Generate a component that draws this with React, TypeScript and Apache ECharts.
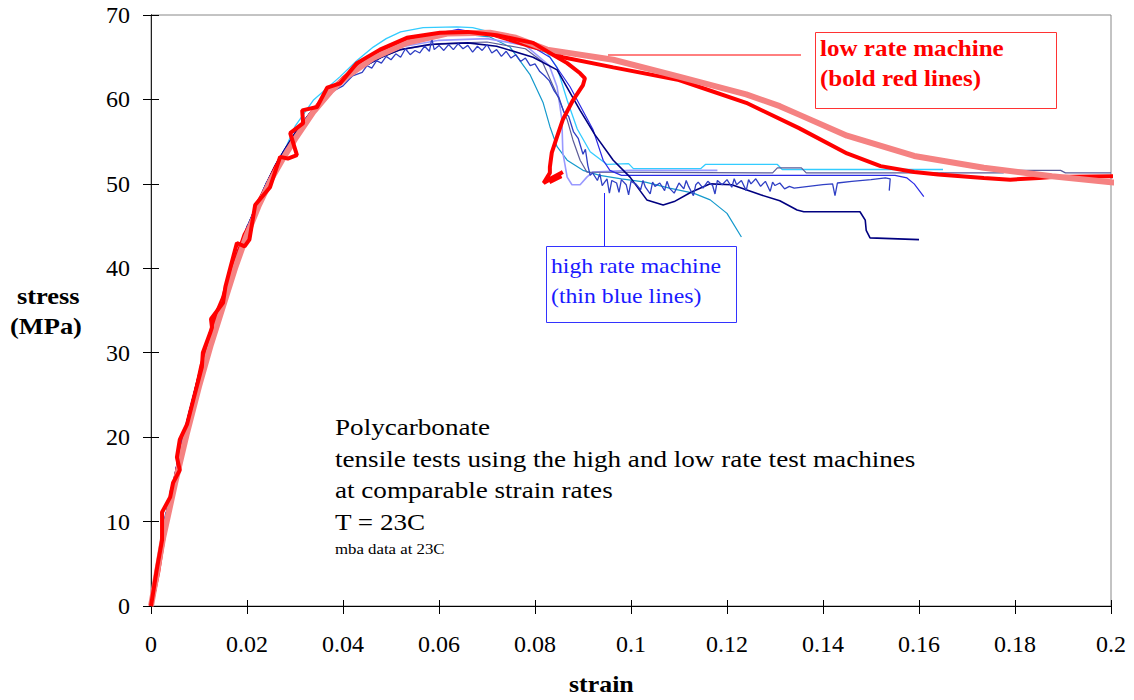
import React, { useEffect, useRef } from "react";
import * as echarts from "echarts";

// ---------- axis ticks ----------
const strainMin = 0;
const strainMax = 0.2;
const strainStep = 0.02;
const stressMin = 0;
const stressMax = 70;
const stressStep = 10;

// ---------- high rate machine (thin blue lines) ----------
const blueRiseLow: number[][] = [
  [0, 0], [0.001, 3.5], [0.002, 7], [0.003, 10.5], [0.004, 13], [0.005, 15.5], [0.006, 18.5],
  [0.008, 23], [0.01, 27.5], [0.012, 31.5], [0.014, 35], [0.016, 38.5], [0.018, 41.8],
  [0.02, 44.8], [0.022, 47.5], [0.024, 50], [0.026, 52.3], [0.028, 54.2],
];
const blueRiseHigh: number[][] = [
  [0.03, 56], [0.033, 58.3], [0.036, 60.2], [0.04, 62.2], [0.044, 63.8], [0.048, 65.0],
];
const cyanTail: number[][] = [
  [0.03, 56.8], [0.0338, 59.9], [0.0394, 62.7], [0.0429, 64.6], [0.0463, 66.2], [0.049, 67.2],
  [0.052, 68.0], [0.0567, 68.5], [0.0637, 68.6], [0.067, 68.5], [0.0706, 68.0], [0.0727, 67.6],
  [0.0754, 67.4], [0.079, 66.2], [0.0825, 65.5], [0.0846, 63.8], [0.0867, 59.9], [0.0888, 56.5],
  [0.0915, 53.8], [0.095, 52.3], [0.0995, 52.4], [0.1005, 51.8], [0.1145, 51.8], [0.1155, 52.3],
  [0.1305, 52.3], [0.1315, 51.7], [0.165, 51.7],
];
const navyTail: number[][] = [
  [0.052, 65.9], [0.058, 66.5], [0.066, 66.7], [0.072, 66.3], [0.0796, 65.0], [0.0846, 63.5],
  [0.0894, 58.7], [0.0925, 55.8], [0.0963, 52.8], [0.0998, 50.8], [0.1033, 48.1], [0.1067, 47.5],
  [0.109, 47.9], [0.1125, 49.0], [0.1165, 50.0], [0.121, 49.9], [0.124, 49.3], [0.127, 48.7],
  [0.131, 48.0], [0.1346, 46.9], [0.136, 46.7], [0.1477, 46.7], [0.1488, 45.7], [0.149, 44.5],
  [0.1498, 43.6], [0.16, 43.4],
];
const tealTail: number[][] = [
  [0.052, 66.8], [0.058, 67.5], [0.064, 67.8], [0.0706, 67.4], [0.0748, 66.2], [0.079, 62.9],
  [0.0817, 59.6], [0.0831, 56.8], [0.0846, 54.4], [0.0867, 52.8], [0.09, 51.6], [0.0935, 51.0],
  [0.098, 50.6], [0.103, 50.2], [0.108, 49.5], [0.113, 48.9], [0.1165, 48.1], [0.12, 46.5],
  [0.123, 43.7],
];
const blueTail: number[][] = [
  [0.052, 66.6], [0.058, 67.6], [0.064, 68.3], [0.068, 67.9], [0.074, 67.3], [0.079, 66.4],
  [0.0831, 65.0], [0.0873, 61.5], [0.0921, 56.4], [0.0942, 52.8], [0.0956, 51.6], [0.098, 51.0],
  [0.155, 51.0], [0.1575, 50.7], [0.159, 50.0], [0.161, 48.5],
];
const lavenderTail: number[][] = [
  [0.052, 66.2], [0.06, 67.0], [0.07, 67.2], [0.078, 66.4], [0.083, 64.0], [0.0846, 61.5],
  [0.0856, 57.6], [0.0858, 53.7], [0.0867, 50.8], [0.0877, 49.9], [0.0894, 49.9], [0.0908, 50.8],
  [0.092, 51.4], [0.1, 51.6], [0.118, 51.6],
];
const slateTail: number[][] = [
  [0.052, 65.9], [0.06, 66.6], [0.07, 66.8], [0.078, 66.0], [0.0815, 64.5], [0.0848, 60.3],
  [0.0867, 57.6], [0.0879, 55.2], [0.0894, 52.8], [0.0908, 51.4], [0.1295, 51.3], [0.1305, 51.9],
  [0.1355, 51.9], [0.1365, 51.3], [0.1775, 51.3], [0.1785, 51.6], [0.1895, 51.6], [0.1905, 51.3],
  [0.2, 51.3],
];
const noisyBlue: number[][] = [
  [0, 0.5], [0.0005, 2.5], [0.001, 1.8], [0.0015, 4.5], [0.002, 6.8], [0.0025, 8.2], [0.003, 10.8],
  [0.0035, 11.5], [0.004, 13.6], [0.005, 15.2], [0.006, 18.9], [0.007, 20.4], [0.008, 23.1],
  [0.009, 24.8], [0.01, 27.3], [0.011, 28.6], [0.012, 31.2], [0.013, 32.5], [0.014, 35.1],
  [0.015, 36.3], [0.016, 38.6], [0.017, 39.8], [0.018, 42.1], [0.019, 43.2], [0.02, 45.0],
  [0.021, 45.9], [0.022, 47.6], [0.023, 48.4], [0.024, 50.1], [0.025, 50.9], [0.026, 52.2],
  [0.027, 52.9], [0.028, 54.1], [0.029, 54.6], [0.03, 55.8], [0.032, 57.0], [0.034, 58.6],
  [0.036, 59.7], [0.038, 61.0], [0.04, 61.6], [0.042, 62.8], [0.044, 63.2],
  [0.045, 64.0], [0.046, 63.7], [0.047, 64.6], [0.048, 64.3], [0.049, 65.1], [0.05, 64.7],
  [0.051, 65.4], [0.052, 65.0], [0.053, 66.0], [0.054, 65.3], [0.055, 65.8], [0.056, 65.5],
  [0.057, 66.3], [0.058, 65.7], [0.0585, 67.2], [0.059, 65.9], [0.06, 66.4], [0.061, 65.8],
  [0.062, 66.5], [0.063, 65.9], [0.064, 66.6], [0.065, 66.0], [0.066, 66.4], [0.067, 65.6],
  [0.068, 66.3], [0.069, 65.8], [0.07, 66.5], [0.071, 65.5], [0.072, 65.9], [0.073, 65.1],
  [0.074, 65.7], [0.075, 64.9], [0.076, 65.3], [0.077, 64.5], [0.078, 64.9], [0.079, 64.0],
  [0.08, 64.2], [0.081, 63.3], [0.082, 62.8], [0.083, 62.2], [0.084, 61.0], [0.085, 60.2],
  [0.086, 58.5], [0.087, 58.0], [0.088, 56.2], [0.089, 55.4], [0.09, 53.5], [0.0905, 54.1],
  [0.091, 52.2], [0.0915, 51.0],
  [0.092, 51.3], [0.093, 50.4], [0.0935, 51.2], [0.094, 49.8], [0.095, 50.6], [0.0955, 48.9],
  [0.096, 50.4], [0.097, 50.1], [0.0975, 49.0], [0.098, 50.5], [0.099, 49.9], [0.0995, 48.7],
  [0.1, 50.3], [0.101, 50.0], [0.102, 49.3], [0.1025, 50.4], [0.103, 49.6], [0.104, 48.8],
  [0.1045, 50.2], [0.105, 49.7], [0.106, 50.1], [0.107, 49.2], [0.1075, 50.3], [0.108, 49.5],
  [0.109, 48.9], [0.11, 50.1], [0.111, 49.4], [0.1115, 50.4], [0.112, 49.7], [0.113, 48.6],
  [0.1135, 49.9], [0.114, 50.2], [0.115, 49.5], [0.116, 50.3], [0.117, 49.8], [0.1175, 48.8],
  [0.118, 50.4], [0.119, 49.9], [0.12, 50.5], [0.121, 49.6], [0.1215, 50.6], [0.122, 49.9],
  [0.123, 50.4], [0.124, 49.2], [0.1245, 50.5], [0.125, 50.0], [0.126, 50.6], [0.127, 49.7],
  [0.128, 50.3], [0.129, 49.1], [0.1295, 50.2], [0.13, 49.8], [0.131, 50.1], [0.132, 49.4],
  [0.133, 49.7], [0.134, 49.5],
  [0.137, 49.7], [0.14, 49.9], [0.142, 50.0], [0.1425, 48.6], [0.143, 50.1], [0.146, 50.3],
  [0.15, 50.5], [0.153, 50.7], [0.154, 50.6], [0.1538, 49.2],
];

// ---------- low rate machine (bold red lines) ----------
const redLoop: number[][] = [
  [0, 0], [0.0012, 4.3], [0.0023, 7.8], [0.0023, 11.1], [0.004, 12.9], [0.0046, 14.6], [0.006, 16.1],
  [0.0054, 17.6], [0.006, 19.7], [0.0075, 21.5], [0.0088, 24.4], [0.0106, 28.3], [0.0108, 30],
  [0.0123, 32.3], [0.0127, 33.0], [0.0125, 34], [0.015, 35.9], [0.0155, 37.8], [0.0165, 40],
  [0.0179, 43.0], [0.0195, 42.6], [0.0205, 43.4], [0.0217, 47.5], [0.0248, 49.6], [0.0269, 53.2],
  [0.0285, 53.0], [0.0304, 53.4], [0.029, 56.0], [0.0317, 57.2], [0.0315, 58.7], [0.0346, 59.1],
  [0.0367, 61.4], [0.0394, 61.9], [0.0429, 64.3], [0.0477, 65.9], [0.0533, 67.3], [0.0602, 67.9],
  [0.066, 68.0], [0.072, 67.6], [0.0796, 66.7], [0.0831, 65.5], [0.0867, 64.3], [0.0894, 63.1],
  [0.0904, 62.5], [0.09, 61.7], [0.0879, 59.9], [0.0858, 57.6], [0.0846, 55.6], [0.0835, 53.7],
  [0.0831, 52.0], [0.0831, 51.3], [0.0818, 50.1], [0.0858, 51.4], [0.0822, 50.3], [0.0855, 50.9],
  [0.083, 50.2],
];
const redLong: number[][] = [
  [0, 0], [0.0015, 4], [0.003, 9.5], [0.0045, 13.5], [0.006, 17.5], [0.0075, 21], [0.009, 24.5],
  [0.0105, 28.5], [0.012, 31], [0.0135, 34.5], [0.015, 36.5], [0.0165, 39.5], [0.018, 41.5],
  [0.0195, 44], [0.021, 45.5], [0.0225, 48], [0.024, 49.5], [0.026, 52], [0.028, 53.5],
  [0.03, 55.5], [0.033, 58], [0.036, 60.3], [0.04, 62.5], [0.044, 64.3], [0.048, 65.6],
  [0.053, 66.8], [0.058, 67.5], [0.064, 67.9], [0.0706, 67.8], [0.0727, 67.4], [0.0796, 66.2],
  [0.0838, 65.6], [0.0858, 65.0], [0.0963, 63.8], [0.11, 62.3], [0.124, 59.6], [0.135, 56.6],
  [0.145, 53.6], [0.152, 52.1], [0.159, 51.4], [0.164, 51.1], [0.1735, 50.7], [0.179, 50.5],
  [0.185, 50.7], [0.1877, 50.8], [0.2, 50.9], [0.202, 50.9],
];
const salmon: number[][] = [
  [0, 0], [0.0025, 8], [0.005, 14.5], [0.0075, 20.5], [0.01, 26], [0.0125, 31], [0.015, 35.5],
  [0.0175, 40], [0.02, 44], [0.0225, 47.5], [0.025, 50.5], [0.0275, 53], [0.03, 55.3],
  [0.0338, 58.5], [0.0375, 61], [0.0408, 62.7], [0.0463, 64.9], [0.0533, 66.7], [0.0617, 67.8],
  [0.0706, 67.9], [0.076, 67.3], [0.0825, 65.9], [0.0963, 64.7], [0.11, 62.7], [0.124, 60.6],
  [0.131, 59.2], [0.135, 58.2], [0.145, 55.7], [0.159, 53.3], [0.1735, 51.9], [0.1877, 50.9],
  [0.2, 50.2], [0.202, 50.1],
];

const noteLines = [
  "Polycarbonate",
  "tensile tests using the high and low rate test machines",
  "at comparable strain rates",
  "T = 23C",
];
const noteSmall = "mba data at 23C";

const SERIF = "'Liberation Serif', 'Times New Roman', serif";

function thin(name: string, data: number[][], color: string, width: number) {
  return {
    name,
    type: "line",
    data,
    showSymbol: false,
    symbol: "none",
    clip: false,
    lineStyle: { color, width },
    z: 2,
  };
}

function label(text: string, x: number, y: number, font: string, fill: string, scaleX: number) {
  return {
    type: "text",
    x,
    y,
    scaleX,
    style: { text, x: 0, y: 0, font, fill, verticalAlign: "middle", align: "left" },
    z: 10,
  };
}

export default function App() {
  const ref = useRef<HTMLDivElement>(null);
  useEffect(() => {
    document.body.style.margin = "0";
    if (!ref.current) return;
    const chart = echarts.init(ref.current, null, { renderer: "svg" });
    const fmtX = (v: number) => String(parseFloat(v.toFixed(2)));
    const noteGraphics = noteLines.map((t, i) =>
      label(t, 335, 427 + i * 31.6, `24px ${SERIF}`, "#000", 1.13)
    );
    chart.setOption({
      animation: false,
      grid: {
        left: 151, right: 23, top: 15, bottom: 94,
        show: true, borderColor: "#888", borderWidth: 1, backgroundColor: "transparent",
      },
      xAxis: [
        {
          type: "value", min: strainMin, max: strainMax, interval: strainStep,
          axisLine: { show: true, onZero: false, lineStyle: { color: "#000", width: 1 } },
          axisTick: { show: true, inside: false, length: 8, lineStyle: { color: "#000" } },
          axisLabel: { margin: 26, fontFamily: SERIF, fontSize: 24, color: "#000", formatter: fmtX },
          splitLine: { show: false },
        },
        {
          type: "value", min: strainMin, max: strainMax, interval: strainStep, position: "bottom",
          axisLine: { show: false },
          axisTick: { show: true, inside: true, length: 6, lineStyle: { color: "#000" } },
          axisLabel: { show: false },
          splitLine: { show: false },
        },
      ],
      yAxis: [
        {
          type: "value", min: stressMin, max: stressMax, interval: stressStep,
          axisLine: { show: true, onZero: false, lineStyle: { color: "#000", width: 1 } },
          axisTick: { show: true, inside: false, length: 8, lineStyle: { color: "#000" } },
          axisLabel: { margin: 21, fontFamily: SERIF, fontSize: 24, color: "#000" },
          splitLine: { show: false },
        },
        {
          type: "value", min: stressMin, max: stressMax, interval: stressStep, position: "left",
          axisLine: { show: false },
          axisTick: { show: true, inside: true, length: 8, lineStyle: { color: "#000" } },
          axisLabel: { show: false },
          splitLine: { show: false },
        },
        {
          type: "value", min: stressMin, max: stressMax, interval: stressStep, position: "right",
          axisLine: { show: true, lineStyle: { color: "#222", width: 1 } },
          axisTick: { show: false },
          axisLabel: { show: false },
          splitLine: { show: false },
        },
      ],
      series: [
        thin("teal", [...blueRiseLow, ...blueRiseHigh, ...tealTail], "#1499cc", 1.2),
        thin("cyan", [...blueRiseLow, ...cyanTail], "#33ccff", 1.3),
        thin("lavender", [...blueRiseLow, ...blueRiseHigh, ...lavenderTail], "#9999ff", 1.6),
        thin("slate", [...blueRiseLow, ...blueRiseHigh, ...slateTail], "#5c5c99", 1.2),
        thin("blue", [...blueRiseLow, ...blueRiseHigh, ...blueTail], "#2a2ae6", 1.2),
        thin("navy", [...blueRiseLow, ...blueRiseHigh, ...navyTail], "#000080", 1.6),
        thin("noisy", noisyBlue, "#2f3fc4", 1.3),
        { ...thin("redLong", redLong, "#ff0000", 4), z: 3 },
        { ...thin("salmon", salmon, "#f58282", 6), z: 4 },
        { ...thin("redLoop", redLoop, "#ff0000", 4), z: 5 },
      ],
      graphic: [
        { type: "line", shape: { x1: 608, y1: 55, x2: 801, y2: 55 }, style: { stroke: "#ff0000", lineWidth: 1 } },
        { type: "rect", shape: { x: 815.5, y: 32.5, width: 241, height: 76 }, style: { fill: "#fff", stroke: "#ff3333", lineWidth: 1 } },
        label("low rate machine", 820, 48, `bold 23px ${SERIF}`, "#ff0000", 1.09),
        label("(bold red lines)", 820, 78, `bold 23px ${SERIF}`, "#ff0000", 1.09),
        { type: "line", shape: { x1: 604.5, y1: 193, x2: 604.5, y2: 246 }, style: { stroke: "#2222ff", lineWidth: 1 } },
        { type: "rect", shape: { x: 546.5, y: 246.5, width: 190, height: 76 }, style: { fill: "#fff", stroke: "#3333ff", lineWidth: 1 } },
        label("high rate machine", 551, 266, `22px ${SERIF}`, "#1a1aff", 1.08),
        label("(thin blue lines)", 551, 296, `22px ${SERIF}`, "#1a1aff", 1.08),
        ...noteGraphics,
        label(noteSmall, 335, 549, `15px ${SERIF}`, "#000", 1.12),
        label("stress", 17, 296, `bold 23px ${SERIF}`, "#000", 1.15),
        label("(MPa)", 10, 326, `bold 23px ${SERIF}`, "#000", 1.15),
        label("strain", 569, 684, `bold 24px ${SERIF}`, "#000", 1.08),
      ],
    });
    return () => chart.dispose();
  }, []);
  return (
    <div
      ref={ref}
      style={{ position: "absolute", left: 0, top: 0, width: 1134, height: 700, background: "#fff" }}
    />
  );
}
